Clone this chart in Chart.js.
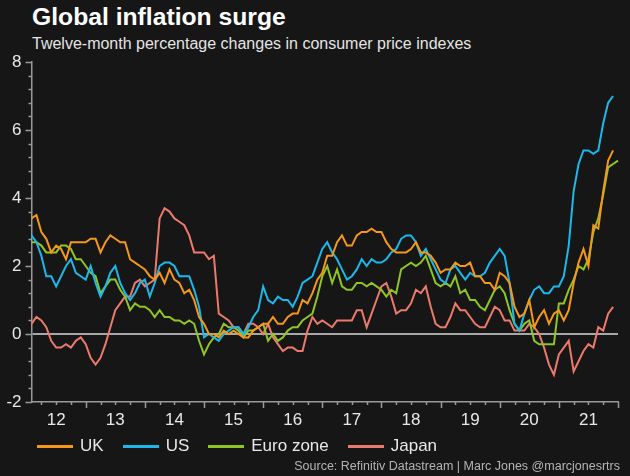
<!DOCTYPE html>
<html>
<head>
<meta charset="utf-8">
<script src="https://cdn.jsdelivr.net/npm/chart.js@4/dist/chart.umd.min.js"></script>
<style>
  html, body { margin: 0; padding: 0; background: #161616; }
  body { width: 630px; height: 476px; position: relative; overflow: hidden; font-family: 'Liberation Sans', Arial, sans-serif; }
  #title { position: absolute; left: 32px; top: 3px; font-size: 24.7px; font-weight: bold; color: #fff; }
  #subtitle { position: absolute; left: 32px; top: 35px; font-size: 16px; color: #e4e4e4; }
  #legend { position: absolute; left: 37px; top: 436px; display: flex; font-size: 17px; color: #e8e8e8; }
  #legend .item { display: flex; align-items: center; margin-right: 19px; }
  #legend .swatch { width: 36px; height: 3px; margin-right: 7px; }
  #source { position: absolute; right: 10px; top: 459px; font-size: 12.5px; color: #b4b4b4; }
  canvas { position: absolute; left: 0; top: 0; }
</style>
</head>
<body>
<div id="title">Global inflation surge</div>
<div id="subtitle">Twelve-month percentage changes in consumer price indexes</div>
<canvas id="chart" width="630" height="476"></canvas>
<div id="legend"></div>
<div id="source">Source: Refinitiv Datastream | Marc Jones @marcjonesrtrs</div>
<script>
// tick labels (mid-year) and monthly categories Feb 2012 .. Jan 2022
const yearLabels = ['12', '13', '14', '15', '16', '17', '18', '19', '20', '21'];
const months = [];
for (let y = 2012; y <= 2022; y++) {
  for (let m = 1; m <= 12; m++) {
    if ((y === 2012 && m < 2) || (y === 2022 && m > 1)) continue;
    months.push(y + '-' + String(m).padStart(2, '0'));
  }
}

const uk = [
  3.4, 3.5, 3.0, 2.8, 2.4, 2.6, 2.5, 2.2, 2.7, 2.7, 2.7,
  2.7, 2.8, 2.8, 2.4, 2.7, 2.9, 2.8, 2.7, 2.7, 2.2, 2.1, 2.0,
  1.9, 1.7, 1.6, 1.8, 1.5, 1.9, 1.6, 1.5, 1.2, 1.3, 1.0, 0.5,
  0.3, 0.0, 0.0, -0.1, 0.1, 0.0, 0.1, 0.0, -0.1, -0.1, 0.1, 0.2,
  0.3, 0.3, 0.5, 0.3, 0.3, 0.5, 0.6, 0.6, 1.0, 0.9, 1.2, 1.6,
  1.8, 2.3, 2.3, 2.7, 2.9, 2.6, 2.6, 2.9, 3.0, 3.0, 3.1, 3.0,
  3.0, 2.7, 2.5, 2.4, 2.4, 2.4, 2.5, 2.7, 2.4, 2.4, 2.3, 2.1,
  1.8, 1.9, 1.9, 2.1, 2.0, 2.0, 2.1, 1.7, 1.7, 1.5, 1.5, 1.3,
  1.8, 1.7, 1.5, 0.8, 0.5, 0.6, 1.0, 0.2, 0.5, 0.7, 0.3, 0.6,
  0.7, 0.4, 0.7, 1.5, 2.1, 2.5, 2.0, 3.2, 3.1, 4.2, 5.1, 5.4
];
const us = [
  2.9, 2.7, 2.3, 1.7, 1.7, 1.4, 1.7, 2.0, 2.2, 1.8, 1.7,
  1.6, 2.0, 1.5, 1.1, 1.4, 1.8, 2.0, 1.5, 1.2, 1.0, 1.2, 1.5,
  1.6, 1.1, 1.5, 2.0, 2.1, 2.1, 2.0, 1.7, 1.7, 1.7, 1.3, 0.8,
  -0.1, 0.0, -0.1, -0.2, 0.0, 0.1, 0.2, 0.2, 0.0, 0.2, 0.5, 0.7,
  1.4, 1.0, 0.9, 1.1, 1.0, 1.0, 0.8, 1.1, 1.5, 1.6, 1.7, 2.1,
  2.5, 2.7, 2.4, 2.2, 1.9, 1.6, 1.7, 1.9, 2.2, 2.0, 2.2, 2.1,
  2.1, 2.2, 2.4, 2.5, 2.8, 2.9, 2.9, 2.7, 2.3, 2.5, 2.2, 1.9,
  1.6, 1.5, 1.9, 2.0, 1.8, 1.6, 1.8, 1.7, 1.7, 1.8, 2.1, 2.3,
  2.5, 2.3, 1.5, 0.3, 0.1, 0.6, 1.0, 1.3, 1.4, 1.2, 1.2, 1.4,
  1.4, 1.7, 2.6, 4.2, 5.0, 5.4, 5.4, 5.3, 5.4, 6.2, 6.8, 7.0
];
const euroZone = [
  2.7, 2.7, 2.6, 2.4, 2.4, 2.4, 2.6, 2.6, 2.5, 2.2, 2.2,
  2.0, 1.8, 1.7, 1.2, 1.4, 1.6, 1.6, 1.3, 1.1, 0.7, 0.9, 0.8,
  0.8, 0.7, 0.5, 0.7, 0.5, 0.5, 0.4, 0.4, 0.3, 0.4, 0.3, -0.2,
  -0.6, -0.3, -0.1, 0.0, 0.3, 0.2, 0.2, 0.1, -0.1, 0.1, 0.1, 0.2,
  0.3, -0.2, 0.0, -0.2, -0.1, 0.1, 0.2, 0.2, 0.4, 0.5, 0.6, 1.1,
  1.7, 2.0, 1.5, 1.9, 1.4, 1.3, 1.3, 1.5, 1.5, 1.4, 1.5, 1.4,
  1.3, 1.1, 1.3, 1.2, 1.9, 2.0, 2.1, 2.0, 2.1, 2.3, 1.9, 1.5,
  1.4, 1.5, 1.4, 1.7, 1.2, 1.3, 1.0, 1.0, 0.8, 0.7, 1.0, 1.3,
  1.4, 1.2, 0.7, 0.3, 0.1, 0.3, 0.4, -0.2, -0.3, -0.3, -0.3, -0.3,
  0.9, 0.9, 1.3, 1.6, 2.0, 1.9, 2.2, 3.0, 3.4, 4.1, 4.9, 5.0,
  5.1
];
const japan = [
  0.3, 0.5, 0.4, 0.2, -0.2, -0.4, -0.4, -0.3, -0.4, -0.2, -0.1,
  -0.3, -0.7, -0.9, -0.7, -0.3, 0.2, 0.7, 0.9, 1.1, 1.1, 1.5, 1.6,
  1.4, 1.5, 1.6, 3.4, 3.7, 3.6, 3.4, 3.3, 3.2, 2.9, 2.4, 2.4,
  2.4, 2.2, 2.3, 0.6, 0.5, 0.4, 0.2, 0.2, 0.0, 0.3, 0.3, 0.2,
  0.0, 0.3, -0.1, -0.3, -0.5, -0.4, -0.4, -0.5, -0.5, 0.1, 0.5, 0.3,
  0.4, 0.3, 0.2, 0.4, 0.4, 0.4, 0.4, 0.7, 0.7, 0.2, 0.6, 1.0,
  1.4, 1.5, 1.1, 0.6, 0.7, 0.7, 0.9, 1.3, 1.2, 1.4, 0.8, 0.3,
  0.2, 0.2, 0.5, 0.9, 0.7, 0.7, 0.5, 0.3, 0.2, 0.2, 0.5, 0.8,
  0.7, 0.4, 0.4, 0.1, 0.1, 0.1, 0.3, 0.2, 0.0, -0.4, -0.9, -1.2,
  -0.6, -0.4, -0.2, -1.1, -0.8, -0.5, -0.3, -0.4, 0.2, 0.1, 0.6, 0.8
];

const seriesNames = ['UK', 'US', 'Euro zone', 'Japan'];
const seriesColors = ['#f5981a', '#1cb8ea', '#8fc525', '#ec7a6c'];
const axisColor = '#9a9a9a';
const textColor = '#e8e8e8';
const font = "'Liberation Sans', Arial, sans-serif";

function isMajorY(v) { return Math.abs(v / 2 - Math.round(v / 2)) < 1e-9; }

// draws axis tick marks with long major / short minor marks
const tickMarks = {
  id: 'tickMarks',
  afterDraw(chart) {
    const { ctx, chartArea, scales } = chart;
    ctx.save();
    ctx.strokeStyle = axisColor;
    ctx.lineWidth = 1.5;
    ctx.beginPath();
    scales.x.ticks.forEach((t, i) => {
      const m = months[i].slice(5);
      if (!['01', '04', '07', '10'].includes(m)) return;
      const px = Math.round(scales.x.getPixelForTick(i)) + 0.5;
      ctx.moveTo(px, chartArea.bottom);
      ctx.lineTo(px, chartArea.bottom + (m === '01' ? 6 : 3));
    });
    scales.y.ticks.forEach(t => {
      const py = Math.round(scales.y.getPixelForValue(t.value)) + 0.5;
      ctx.moveTo(chartArea.left, py);
      ctx.lineTo(chartArea.left - (isMajorY(t.value) ? 6 : 3), py);
    });
    ctx.stroke();
    ctx.restore();
  }
};

const datasets = [uk, us, euroZone, japan].map((d, i) => ({
  label: seriesNames[i],
  data: d,
  borderColor: seriesColors[i],
  backgroundColor: seriesColors[i],
  borderWidth: 2,
  pointRadius: 0,
  tension: 0,
  fill: false
}));

new Chart(document.getElementById('chart').getContext('2d'), {
  type: 'line',
  data: { labels: months, datasets },
  options: {
    responsive: false,
    animation: false,
    devicePixelRatio: 1,
    layout: { padding: { left: 0, right: 12, top: 62, bottom: 44 } },
    plugins: { legend: { display: false }, tooltip: { enabled: false } },
    scales: {
      x: {
        type: 'category',
        offset: false,
        border: { color: axisColor, width: 1.5 },
        grid: { drawOnChartArea: false, tickColor: 'transparent', tickLength: 5 },
        ticks: {
          autoSkip: false,
          maxRotation: 0,
          minRotation: 0,
          padding: 3,
          color: textColor,
          font: { family: font, size: 17 },
          callback(val, i) {
            const lab = months[i];
            if (lab.slice(5) !== '07') return '';
            return yearLabels[parseInt(lab.slice(0, 4), 10) - 2012];
          }
        },
        afterFit(scale) { scale.height = 30; }
      },
      y: {
        min: -2,
        max: 8,
        border: { color: axisColor, width: 1.5 },
        grid: {
          color: ctx => (ctx.tick && ctx.tick.value === 0 ? '#a8a8a8' : 'transparent'),
          lineWidth: 2,
          tickColor: 'transparent',
          tickLength: 5
        },
        ticks: {
          stepSize: 0.4,
          autoSkip: false,
          padding: 5,
          color: textColor,
          font: { family: font, size: 17 },
          callback: v => (isMajorY(v) ? String(Math.round(v)) : '')
        },
        afterFit(scale) { scale.width = 31.5; }
      }
    }
  },
  plugins: [tickMarks]
});

// legend
const legendEl = document.getElementById('legend');
seriesNames.forEach((name, i) => {
  const item = document.createElement('div');
  item.className = 'item';
  const sw = document.createElement('span');
  sw.className = 'swatch';
  sw.style.background = seriesColors[i];
  const tx = document.createElement('span');
  tx.textContent = name;
  item.appendChild(sw);
  item.appendChild(tx);
  legendEl.appendChild(item);
});
</script>
</body>
</html>
